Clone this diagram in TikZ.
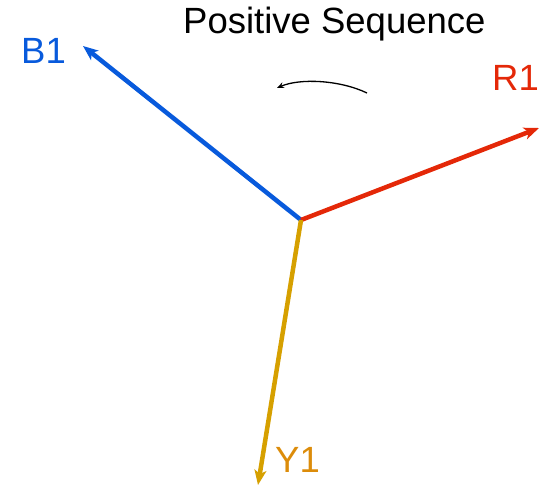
\documentclass[tikz,border=0pt]{standalone}
\usepackage{fontspec}
\setmainfont{Liberation Sans}
\usetikzlibrary{arrows.meta}

\definecolor{phaseB}{RGB}{8,90,220}
\definecolor{phaseR}{RGB}{228,40,8}
\definecolor{phaseY}{RGB}{214,160,0}
\definecolor{labelY}{RGB}{220,140,10}

\tikzset{
  phasor/.style={line width=4.5pt,-{Stealth[length=15pt,width=12pt,inset=4pt]}},
  lbl/.style={anchor=base west,inner sep=0pt,font=\fontsize{36.5}{43.8}\selectfont}
}

\begin{document}
\begin{tikzpicture}[x=1pt,y=-1pt]
\path[use as bounding box] (0,0) rectangle (539.0,486.0);
\node[lbl] (title) at (183,34) {Positive Sequence};
% phasor star
\coordinate (O) at (301,220);
\coordinate (Rtip) at (539,128);
\coordinate (Btip) at (83,46);
\coordinate (Ytip) at (258,485);
\draw[phasor,phaseB] (O) -- (Btip);
\draw[phasor,phaseR] (O) -- (Rtip);
\draw[phasor,phaseY] (O) -- (Ytip);
\node[lbl,text=phaseB] (B1) at (21,64) {B1};
\node[lbl,text=phaseR] (R1) at (492,91) {R1};
\node[lbl,text=labelY] (Y1) at (275,473) {Y1};
% rotation sense
\coordinate (rotA) at (367,93);
\coordinate (rotB) at (277,88);
\draw[line width=1.3pt,-{Stealth[length=7pt,width=6pt]}] (rotA) .. controls (340,80) and (300,78) .. (rotB);
\end{tikzpicture}
\end{document}
